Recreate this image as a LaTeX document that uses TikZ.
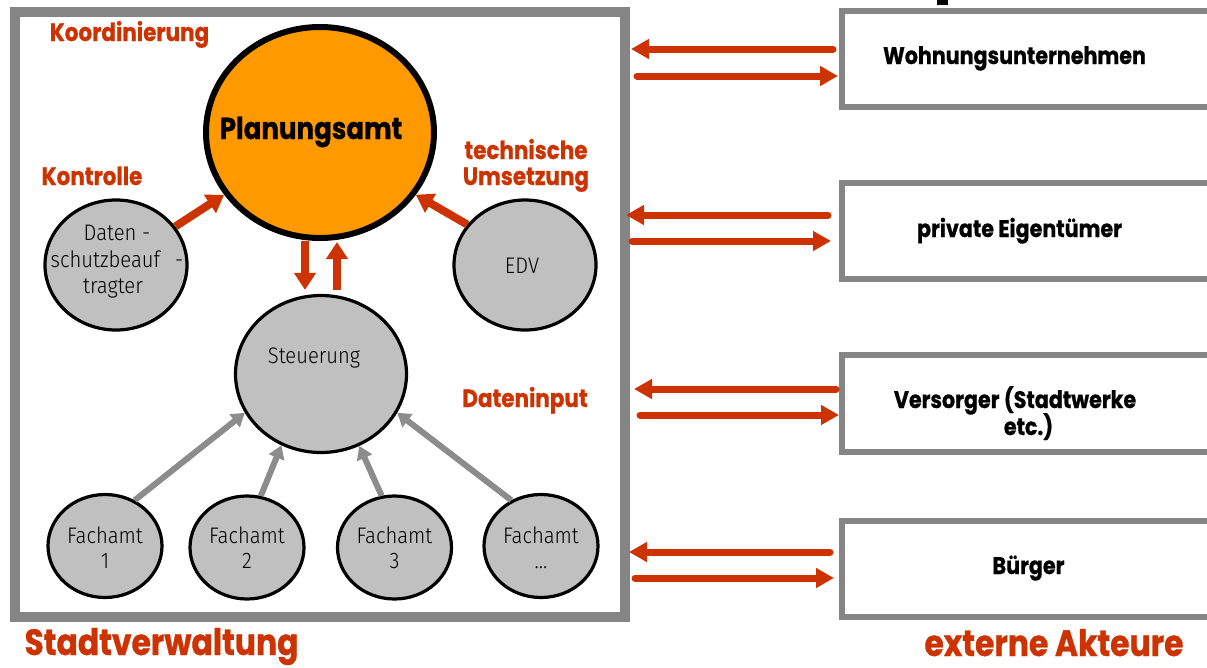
\documentclass[tikz,border=0pt]{standalone}
\usepackage{fontspec}
\usetikzlibrary{arrows.meta,shapes.geometric}
\newfontfamily\boldf[FakeStretch=0.86,BoldFeatures={FakeBold=0.8}]{Poppins}
\newfontfamily\lightf[FakeStretch=0.9]{Fira Sans Light}
\definecolor{rust}{HTML}{CC3300}
\definecolor{orng}{HTML}{FF9900}
\definecolor{frame}{HTML}{858585}
\definecolor{cgray}{HTML}{C0C0C0}
\definecolor{agray}{HTML}{8C8C8C}
\tikzset{
  lbl/.style={text=rust,font=\boldf\bfseries\fontsize{25}{26}\selectfont,inner sep=0,anchor=base},
  big/.style={text=rust,font=\boldf\bfseries\fontsize{36.5}{38}\selectfont,inner sep=0,anchor=base},
  lighttext/.style={font=\lightf\fontsize{22.5}{25}\selectfont,align=center,inner sep=0},
  gcirc/.style={ellipse,draw=black,line width=3.2pt,fill=cgray,inner sep=0,lighttext},
  extbox/.style={draw=frame,line width=6pt,fill=white},
  exttext/.style={font=\boldf\bfseries\fontsize{24}{27}\selectfont,inner sep=0,anchor=base},
  redarrow/.style={draw=rust,line width=8pt,-{Triangle[length=17pt,width=21pt]}},
  extarrow/.style={draw=rust,line width=7pt,line cap=round,-{Triangle[length=18pt,width=19pt]}},
  grayarrow/.style={draw=agray,line width=6pt,-{Triangle[length=13pt,width=16pt]}},
}
\begin{document}
\begin{tikzpicture}[x=1pt,y=-1pt]
\useasboundingbox (0,0) rectangle (1207,667);
\fill[white] (0,0) rectangle (1207,667);
% fragment at top
\fill[black] (937,0) rectangle (948,5);
% main frame
\draw[frame,line width=10pt] (15,12) rectangle (625,617);
% external boxes
\draw[extbox] (842,11) rectangle (1215,107);
\draw[extbox] (842,183) rectangle (1215,279);
\draw[extbox] (842,355) rectangle (1215,452);
\draw[extbox] (842,521) rectangle (1215,617);
\node[exttext] (woh) at (1014.5,64) {Wohnungsunternehmen};
\node[exttext] (pri) at (1019.5,237) {private Eigentümer};
\node[exttext] (ver1) at (1015,408) {Versorger (Stadtwerke};
\node[exttext] (ver2) at (1028.5,435) {etc.)};
\node[exttext] (bue) at (1028.5,574) {Bürger};
% anchor coordinates for external arrows
\coordinate (w1) at (833,49); \coordinate (w2) at (631,49);
\coordinate (w3) at (637,76); \coordinate (w4) at (838,76);
\coordinate (p1) at (828,215); \coordinate (p2) at (626,215);
\coordinate (p3) at (632,241); \coordinate (p4) at (831,241);
\coordinate (v1) at (836,389); \coordinate (v2) at (634,389);
\coordinate (v3) at (640,415); \coordinate (v4) at (839,415);
\coordinate (b1) at (830,552); \coordinate (b2) at (629,552);
\coordinate (b3) at (635,578); \coordinate (b4) at (834,578);
\draw[extarrow] (w1) -- (w2);
\draw[extarrow] (w3) -- (w4);
\draw[extarrow] (p1) -- (p2);
\draw[extarrow] (p3) -- (p4);
\draw[extarrow] (v1) -- (v2);
\draw[extarrow] (v3) -- (v4);
\draw[extarrow] (b1) -- (b2);
\draw[extarrow] (b3) -- (b4);
% circles
\node[ellipse,draw=black,line width=6pt,fill=orng,minimum width=228pt,minimum height=211pt,inner sep=0] (plan) at (320,132.5) {};
\node[font=\boldf\bfseries\fontsize{30.3}{32}\selectfont,inner sep=0,anchor=base] (plant) at (311,139) {Planungsamt};
\node[gcirc,minimum width=142pt,minimum height=130pt] (dat) at (116,265) {};
\node[lighttext,font=\lightf\fontsize{22.5}{26.5}\selectfont] (datt) at (117,262) {Daten -\\schutzbeauf\enspace\,-\\\hspace*{-8pt}tragter};
\node[gcirc,minimum width=142pt,minimum height=130pt] (edv) at (525,265) {};
\node[lighttext] (edvt) at (522,266) {EDV};
\node[gcirc,minimum width=171pt,minimum height=157pt] (ste) at (321,374) {};
\node[lighttext] (stet) at (314,358) {Steuerung};
\node[gcirc,minimum width=114pt,minimum height=103pt] (f1) at (105,546) {};
\node[gcirc,minimum width=114pt,minimum height=103pt] (f2) at (247,547.5) {};
\node[gcirc,minimum width=114pt,minimum height=103pt] (f3) at (394.5,547.5) {};
\node[gcirc,minimum width=114pt,minimum height=103pt] (f4) at (541,546) {};
\node[lighttext] (f1t) at (105,547.5) {Fachamt\\1};
\node[lighttext] (f2t) at (247,547.5) {Fachamt\\2};
\node[lighttext] (f3t) at (394.5,547.5) {Fachamt\\3};
\node[lighttext] (f4t) at (541,547.5) {Fachamt\\\dots};
% labels
\node[lbl] (koo) at (129.5,41) {Koordinierung};
\node[lbl] (kon) at (92,185) {Kontrolle};
\node[lbl] (tec1) at (526,159) {technische};
\node[lbl] (tec2) at (526,185) {Umsetzung};
\node[lbl] (dai) at (525,407) {Dateninput};
\node[big] (sta) at (161.5,655) {Stadtverwaltung};
\node[big] (ext) at (1054,656) {externe Akteure};
% red arrows
\draw[redarrow] (dat.33.7) -- (plan.213.8);
\draw[redarrow] (edv.145.7) -- (plan.327.5);
\draw[redarrow] ([xshift=-15pt]plan.south) -- ([xshift=-16pt,yshift=4pt]ste.north);
\draw[redarrow] ([xshift=16pt,yshift=4pt]ste.north) -- ([xshift=17pt,yshift=-1pt]plan.south);
% gray arrows
\draw[grayarrow] (f1.57.3) -- (ste.207.7);
\draw[grayarrow] (f2.75.1) -- (ste.241.9);
\draw[grayarrow] (f3.104.4) -- (ste.298.7);
\draw[grayarrow] (f4.123.9) -- (ste.333.2);
\end{tikzpicture}
\end{document}
